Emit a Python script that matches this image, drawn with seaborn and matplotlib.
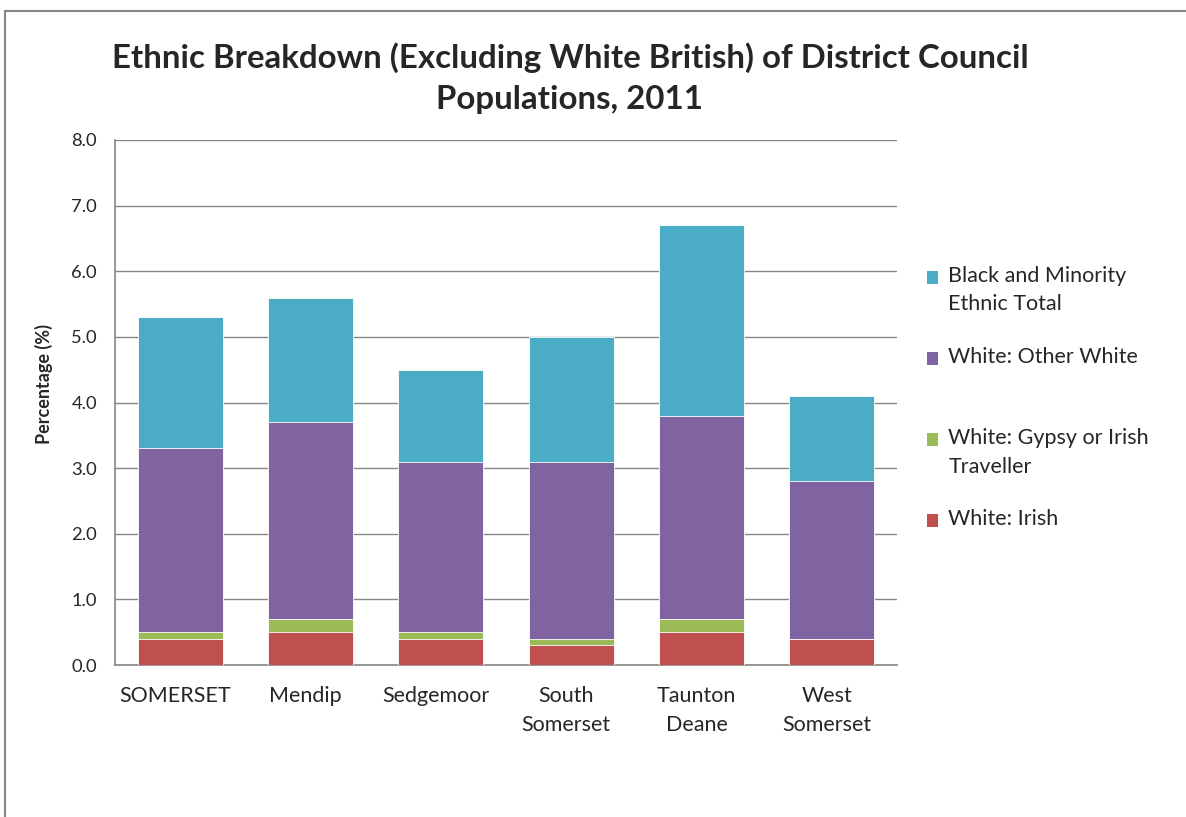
import matplotlib
matplotlib.use("Agg")
import matplotlib.pyplot as plt
import matplotlib.transforms as mtransforms
import seaborn as sns
import pandas as pd
import numpy as np
from matplotlib.patches import Patch, Rectangle
from matplotlib.lines import Line2D
from matplotlib.legend_handler import HandlerPatch

categories = ["SOMERSET", "Mendip", "Sedgemoor", "South\nSomerset", "Taunton\nDeane", "West\nSomerset"]
white_irish = [0.4, 0.5, 0.4, 0.3, 0.5, 0.4]
white_gypsy = [0.1, 0.2, 0.1, 0.1, 0.2, 0.0]
white_other = [2.8, 3.0, 2.6, 2.7, 3.1, 2.4]
bme_total = [2.0, 1.9, 1.4, 1.9, 2.9, 1.3]

series_names = ["White: Irish", "White: Gypsy or Irish\nTraveller", "White: Other White", "Black and Minority\nEthnic Total"]
colors = ["#C0504D", "#9BBB59", "#8064A2", "#4BACC6"]

sns.set_theme(style="white")
plt.rcParams["font.family"] = ["Lato", "DejaVu Sans"]

df = pd.DataFrame({"cat": categories, "irish": white_irish, "gypsy": white_gypsy,
                   "other": white_other, "bme": bme_total})
stack_cols = ["irish", "gypsy", "other", "bme"]
cum = df[stack_cols].cumsum(axis=1)

fig = plt.figure(figsize=(11.86, 8.17), dpi=100)
ax = fig.add_axes([115/1186, 1-665/817, (897-115)/1186, (665-140)/817])

for col, color in reversed(list(zip(stack_cols, colors))):
    sns.barplot(x=df["cat"], y=cum[col], color=color, width=0.65, ax=ax,
                saturation=1, edgecolor="white", linewidth=0.6, zorder=3)

ax.set_ylim(0, 8)
ax.set_yticks(np.arange(0, 8.01, 1.0))
ax.set_yticklabels([f"{v:.1f}" for v in np.arange(0, 8.01, 1.0)], fontsize=13.2)
ax.set_xlim(-0.5, len(categories) - 0.5)
ax.set_xlabel("")
ax.set_ylabel("Percentage (%)", fontsize=13, fontweight="bold")
ax.yaxis.set_label_coords(-0.079, (665-384)/525)
ax.tick_params(axis="x", labelsize=15.5, length=0, pad=15)
ax.tick_params(axis="y", length=0, pad=13)
shift = mtransforms.ScaledTranslation(-5/100, 0, fig.dpi_scale_trans)
for lbl in ax.get_xticklabels():
    lbl.set_linespacing(1.6)
    lbl.set_transform(lbl.get_transform() + shift)

ax.grid(axis="y", color="#868686", linewidth=1, zorder=0)
ax.set_axisbelow(True)
for side in ["top", "right"]:
    ax.spines[side].set_visible(False)
for side in ["left", "bottom"]:
    ax.spines[side].set_color("#868686")
    ax.spines[side].set_linewidth(1.2)

fig.suptitle("Ethnic Breakdown (Excluding White British) of District Council\nPopulations, 2011",
             x=570/1186, y=1-42/817, fontsize=23.8, fontweight="bold", linespacing=1.5, va="top")


def top_square(legend, orig_handle, xdescent, ydescent, width, height, fontsize):
    return Rectangle((-xdescent, -ydescent + 0.62 * fontsize), width, height)


handles = [Patch(facecolor=c, edgecolor="none") for c in reversed(colors)]
labels = [n if "\n" in n else n + "\n" for n in reversed(series_names)]
leg = fig.legend(handles, labels, loc="upper left", bbox_to_anchor=(918/1186, 1-257/817),
                 frameon=False, fontsize=15.5, handlelength=0.55, handleheight=0.55,
                 handletextpad=0.45, labelspacing=1.5, borderaxespad=0,
                 handler_map={Patch: HandlerPatch(patch_func=top_square)})
for t in leg.get_texts():
    t.set_linespacing(1.55)

# outer chart frame
fig.add_artist(Line2D([5/1186, 5/1186], [0, 1-11/817], transform=fig.transFigure, color="#868686", linewidth=1.5))
fig.add_artist(Line2D([5/1186, 1], [1-11/817, 1-11/817], transform=fig.transFigure, color="#868686", linewidth=1.5))

fig.savefig("out.png", dpi=100, facecolor="white")
